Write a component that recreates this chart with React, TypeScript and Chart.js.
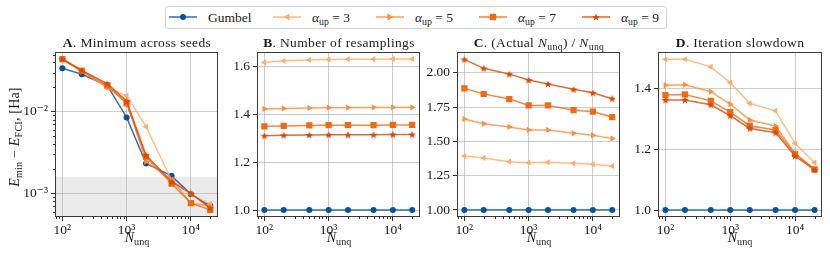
import React, { useEffect, useRef } from 'react';
import { Chart, registerables } from 'chart.js';
Chart.register(...registerables);

// ---------------- data ----------------
const N_UNQ = [100, 200, 500, 1000, 2000, 5000, 10000, 20000];
const ALPHA_UP = [3, 5, 7, 9];
const SERIES_COLORS = ['#08519c', '#fdae6b', '#fd8d3c', '#f16913', '#d94801'];

// A. Minimum across seeds  (E_min - E_FCI, Ha)
const A_GUMBEL = [0.034, 0.0287, 0.0208, 0.0085, 0.00233, 0.00164, 0.00098, 0.000705];
const A_UP3 = [0.0438, 0.0324, 0.0195, 0.0157, 0.00656, 0.00146, 0.00098, 0.00074];
const A_UP5 = [0.044, 0.031, 0.02, 0.0133, 0.00245, 0.00148, 0.00076, 0.0007];
const A_UP7 = [0.044, 0.0315, 0.021, 0.0126, 0.00281, 0.00132, 0.00076, 0.00063];
const A_UP9 = [0.044, 0.032, 0.022, 0.0135, 0.00295, 0.00139, 0.001, 0.00066];
const CHEMICAL_ACCURACY = 0.0016;

// B. Number of resamplings
const B_GUMBEL = [1, 1, 1, 1, 1, 1, 1, 1];
const B_UP3 = [1.617, 1.624, 1.628, 1.63, 1.631, 1.631, 1.632, 1.632];
const B_UP5 = [1.423, 1.425, 1.427, 1.428, 1.428, 1.429, 1.429, 1.429];
const B_UP7 = [1.35, 1.352, 1.354, 1.355, 1.355, 1.355, 1.356, 1.356];
const B_UP9 = [1.311, 1.313, 1.314, 1.315, 1.315, 1.315, 1.316, 1.316];

// C. (Actual N_unq) / N_unq
const C_GUMBEL = [1, 1, 1, 1, 1, 1, 1, 1];
const C_UP3 = [1.393, 1.379, 1.352, 1.345, 1.347, 1.34, 1.333, 1.32];
const C_UP5 = [1.663, 1.629, 1.605, 1.583, 1.583, 1.559, 1.544, 1.52];
const C_UP7 = [1.886, 1.845, 1.808, 1.762, 1.762, 1.728, 1.716, 1.677];
const C_UP9 = [2.097, 2.032, 1.99, 1.947, 1.918, 1.879, 1.854, 1.811];

// D. Iteration slowdown
const D_GUMBEL = [1, 1, 1, 1, 1, 1, 1, 1];
const D_UP3 = [1.497, 1.497, 1.472, 1.42, 1.352, 1.327, 1.22, 1.156];
const D_UP5 = [1.411, 1.413, 1.39, 1.349, 1.297, 1.277, 1.187, 1.134];
const D_UP7 = [1.379, 1.381, 1.36, 1.323, 1.278, 1.264, 1.184, 1.134];
const D_UP9 = [1.363, 1.363, 1.347, 1.311, 1.269, 1.255, 1.178, 1.132];

// tick values
const X_TICKS = [100, 1000, 10000];
const X_TICK_LABELS = ['10²', '10³', '10⁴'];
const A_Y_TICKS = [0.001, 0.01];
const A_Y_TICK_LABELS = ['10⁻³', '10⁻²'];
const B_Y_TICKS = [1.0, 1.2, 1.4, 1.6];
const C_Y_TICKS = [1.0, 1.25, 1.5, 1.75, 2.0];
const D_Y_TICKS = [1.0, 1.2, 1.4];

// ---------------- styling helpers ----------------
const FONT = '"Liberation Serif", "DejaVu Serif", serif';
const TEXT = '#1a1a1a';

function hexA(hex: string, a: number) {
  const n = parseInt(hex.slice(1), 16);
  return `rgba(${(n >> 16) & 255},${(n >> 8) & 255},${n & 255},${a})`;
}

function makeStar(color: string, size: number) {
  const c = document.createElement('canvas');
  c.width = size;
  c.height = size;
  const ctx = c.getContext('2d')!;
  const cx = size / 2, cy = size / 2 + 0.4, R = size / 2, r = R * 0.42;
  ctx.beginPath();
  for (let i = 0; i < 10; i++) {
    const ang = -Math.PI / 2 + (i * Math.PI) / 5;
    const rad = i % 2 === 0 ? R : r;
    ctx.lineTo(cx + rad * Math.cos(ang), cy + rad * Math.sin(ang));
  }
  ctx.closePath();
  ctx.fillStyle = color;
  ctx.fill();
  return c;
}

function markerProps(i: number) {
  const color = SERIES_COLORS[i];
  switch (i) {
    case 0: return { pointStyle: 'circle', pointRadius: 3, pointRotation: 0 };
    case 1: return { pointStyle: 'triangle', pointRadius: 3.6, pointRotation: -90 };
    case 2: return { pointStyle: 'triangle', pointRadius: 3.6, pointRotation: 90 };
    case 3: return { pointStyle: 'rect', pointRadius: 4.4, pointRotation: 0 };
    default: return { pointStyle: makeStar(color, 8), pointRadius: 4, pointRotation: 0 };
  }
}

function dataset(label: string, values: number[], i: number) {
  const color = SERIES_COLORS[i];
  return {
    label,
    data: N_UNQ.map((x, j) => ({ x, y: values[j] })),
    borderColor: hexA(color, 0.8),
    backgroundColor: color,
    pointBackgroundColor: color,
    pointBorderColor: color,
    pointBorderWidth: 0,
    borderWidth: 1.5,
    tension: 0,
    order: 5 - i,
    ...markerProps(i),
  };
}

const GRID = 'rgba(170,170,170,0.6)';

function minorLogValues(min: number, max: number) {
  const out: number[] = [];
  for (let e = Math.floor(Math.log10(min)); e <= Math.ceil(Math.log10(max)); e++) {
    for (let k = 2; k <= 9; k++) {
      const v = k * Math.pow(10, e);
      if (v >= min && v <= max) out.push(v);
    }
  }
  return out;
}

const framePlugin = {
  id: 'frameAndMinor',
  beforeDraw(chart: any, _a: any, opts: any) {
    const { ctx, chartArea } = chart;
    if (opts.shadeBelow != null) {
      const y = chart.scales.y.getPixelForValue(opts.shadeBelow);
      ctx.save();
      ctx.fillStyle = '#ebebeb';
      ctx.fillRect(chartArea.left, y, chartArea.right - chartArea.left, chartArea.bottom - y);
      ctx.restore();
    }
  },
  afterDraw(chart: any) {
    const { ctx, chartArea } = chart;
    ctx.save();
    ctx.strokeStyle = '#333';
    ctx.lineWidth = 1;
    // minor ticks on log axes
    ['x', 'y'].forEach((id) => {
      const s = chart.scales[id];
      if (s.type !== 'logarithmic') return;
      minorLogValues(s.min, s.max).forEach((v) => {
        const p = Math.round(s.getPixelForValue(v)) + 0.5;
        ctx.beginPath();
        if (id === 'x') {
          ctx.moveTo(p, chartArea.bottom);
          ctx.lineTo(p, chartArea.bottom + 2);
        } else {
          ctx.moveTo(chartArea.left, p);
          ctx.lineTo(chartArea.left - 2, p);
        }
        ctx.stroke();
      });
    });
    ctx.strokeStyle = '#3a3a3a';
    ctx.strokeRect(
      Math.round(chartArea.left) + 0.5,
      Math.round(chartArea.top) + 0.5,
      Math.round(chartArea.right - chartArea.left) - 1,
      Math.round(chartArea.bottom - chartArea.top) - 1
    );
    ctx.restore();
  },
};

type PanelCfg = {
  left: number;
  width: number;
  yWidth: number;
  padRight: number;
  yType: 'linear' | 'logarithmic';
  yMin: number;
  yMax: number;
  yTicks: number[];
  yLabel: (v: number, i: number) => string;
  series: number[][];
  shadeBelow?: number;
};

const SERIES_LABELS = ['Gumbel', ...ALPHA_UP.map((a) => `α_up = ${a}`)];

const X_MIN = Math.pow(10, 1.885);
const X_MAX = Math.pow(10, 4.416);

const PANELS: PanelCfg[] = [
  {
    left: 0, width: 222, yWidth: 55, padRight: 3, yType: 'logarithmic',
    yMin: 5.15e-4, yMax: 0.0537, yTicks: A_Y_TICKS, yLabel: (_v, i) => A_Y_TICK_LABELS[i],
    series: [A_GUMBEL, A_UP3, A_UP5, A_UP7, A_UP9], shadeBelow: CHEMICAL_ACCURACY,
  },
  {
    left: 222, width: 202, yWidth: 35, padRight: 3, yType: 'linear',
    yMin: 0.971, yMax: 1.661, yTicks: B_Y_TICKS, yLabel: (v) => v.toFixed(1),
    series: [B_GUMBEL, B_UP3, B_UP5, B_UP7, B_UP9],
  },
  {
    left: 424, width: 200, yWidth: 33, padRight: 3, yType: 'linear',
    yMin: 0.949, yMax: 2.151, yTicks: C_Y_TICKS, yLabel: (v) => v.toFixed(2),
    series: [C_GUMBEL, C_UP3, C_UP5, C_UP7, C_UP9],
  },
  {
    left: 624, width: 206, yWidth: 34, padRight: 8, yType: 'linear',
    yMin: 0.977, yMax: 1.521, yTicks: D_Y_TICKS, yLabel: (v) => v.toFixed(1),
    series: [D_GUMBEL, D_UP3, D_UP5, D_UP7, D_UP9],
  },
];

const TICK_FONT = { family: FONT, size: 13.5 };

function Panel({ cfg }: { cfg: PanelCfg }) {
  const ref = useRef<HTMLCanvasElement>(null);
  useEffect(() => {
    const chart = new Chart(ref.current!, {
      type: 'line',
      data: { datasets: cfg.series.map((s, i) => dataset(SERIES_LABELS[i], s, i)) as any },
      options: {
        animation: false,
        responsive: false,
        devicePixelRatio: 1,
        layout: { padding: { top: 22, right: cfg.padRight, left: 0, bottom: 0 } },
        plugins: {
          legend: { display: false },
          tooltip: { enabled: false },
          title: { display: false },
          frameAndMinor: { shadeBelow: cfg.shadeBelow },
        } as any,
        scales: {
          x: {
            type: 'logarithmic',
            min: X_MIN,
            max: X_MAX,
            afterBuildTicks: (s: any) => { s.ticks = X_TICKS.map((v) => ({ value: v, major: true })); },
            afterFit: (s: any) => { s.height = 43; },
            ticks: {
              autoSkip: false,
              maxRotation: 0,
              padding: 1,
              color: TEXT,
              font: TICK_FONT,
              callback: (_v: any, i: number) => X_TICK_LABELS[i],
            },
            grid: { color: GRID, lineWidth: 1, tickColor: '#333', tickLength: 4 },
            border: { display: false },
          },
          y: {
            type: cfg.yType,
            min: cfg.yMin,
            max: cfg.yMax,
            afterBuildTicks: (s: any) => { s.ticks = cfg.yTicks.map((v) => ({ value: v, major: true })); },
            afterFit: (s: any) => { s.width = cfg.yWidth; },
            ticks: {
              autoSkip: false,
              padding: 3,
              color: TEXT,
              font: TICK_FONT,
              callback: (v: any, i: number) => cfg.yLabel(Number(v), i),
            },
            grid: { color: GRID, lineWidth: 1, tickColor: '#333', tickLength: 4 },
            border: { display: false },
          } as any,
        },
      },
      plugins: [framePlugin],
    });
    return () => chart.destroy();
  }, []);
  return (
    <canvas
      ref={ref}
      width={cfg.width}
      height={230}
      style={{ position: 'absolute', left: cfg.left, top: 30, width: cfg.width, height: 230 }}
    />
  );
}

const subStyle: React.CSSProperties = {
  fontSize: '0.72em',
  verticalAlign: 'baseline',
  position: 'relative',
  top: '0.3em',
  lineHeight: 1,
};

const Sub = ({ children }: { children: React.ReactNode }) => <span style={subStyle}>{children}</span>;
const Nunq = () => (
  <span>
    <i>N</i>
    <Sub>unq</Sub>
  </span>
);

const TITLES: React.ReactNode[] = [
  <span><b>A</b>. Minimum across seeds</span>,
  <span><b>B</b>. Number of resamplings</span>,
  <span><b>C</b>. (Actual <Nunq />) / <Nunq /></span>,
  <span><b>D</b>. Iteration slowdown</span>,
];

const CHART_AREAS = PANELS.map((p) => ({ left: p.left + p.yWidth, right: p.left + p.width - p.padRight }));

function LegendMarker({ i }: { i: number }) {
  const c = SERIES_COLORS[i];
  let shape: React.ReactNode;
  if (i === 0) shape = <circle cx={14} cy={5} r={3} fill={c} />;
  else if (i === 1) shape = <polygon points="10.5,5 16.5,1.6 16.5,8.4" fill={c} />;
  else if (i === 2) shape = <polygon points="17.5,5 11.5,1.6 11.5,8.4" fill={c} />;
  else if (i === 3) shape = <rect x={10.8} y={1.8} width={6.4} height={6.4} fill={c} />;
  else {
    const pts: string[] = [];
    for (let k = 0; k < 10; k++) {
      const ang = -Math.PI / 2 + (k * Math.PI) / 5;
      const rad = k % 2 === 0 ? 4 : 1.7;
      pts.push(`${(14 + rad * Math.cos(ang)).toFixed(2)},${(5.4 + rad * Math.sin(ang)).toFixed(2)}`);
    }
    shape = <polygon points={pts.join(' ')} fill={c} />;
  }
  return (
    <svg width={28} height={10} style={{ position: 'absolute', left: 0, top: 5 }}>
      <line x1={0} y1={5} x2={28} y2={5} stroke={hexA(c, 0.85)} strokeWidth={1.5} />
      {shape}
    </svg>
  );
}

const LEGEND_ITEM_X = [3, 107, 210, 313, 416];

export default function App() {
  useEffect(() => {
    document.body.style.margin = '0';
  }, []);
  return (
    <div
      style={{
        position: 'fixed', left: 0, top: 0, width: 830, height: 260, background: '#fff',
        fontFamily: FONT, color: TEXT, overflow: 'hidden',
      }}
    >
      {PANELS.map((p, i) => <Panel key={i} cfg={p} />)}

      {/* titles */}
      {TITLES.map((t, i) => (
        <div
          key={'t' + i}
          style={{
            position: 'absolute', left: CHART_AREAS[i].left - 20, width: CHART_AREAS[i].right - CHART_AREAS[i].left + 40,
            top: 36, textAlign: 'center', fontSize: 13.5, lineHeight: '14px', whiteSpace: 'nowrap',
            letterSpacing: '0.35px',
          }}
        >
          {t}
        </div>
      ))}

      {/* x-axis labels */}
      {CHART_AREAS.map((a, i) => (
        <div
          key={'x' + i}
          style={{
            position: 'absolute', left: a.left, width: a.right - a.left, top: 231,
            textAlign: 'center', fontSize: 14, lineHeight: '14px', whiteSpace: 'nowrap',
          }}
        >
          <Nunq />
        </div>
      ))}

      {/* y-axis label of panel A */}
      <div
        style={{
          position: 'absolute', left: 15 - 100, top: 137 - 7, width: 200, height: 14,
          textAlign: 'center', fontSize: 14, lineHeight: '14px', whiteSpace: 'nowrap',
          transform: 'rotate(-90deg)', transformOrigin: '50% 50%', letterSpacing: '0.2px',
        }}
      >
        <i>E</i><Sub>min</Sub> − <i>E</i><Sub>FCI</Sub>, [Ha]
      </div>

      {/* legend */}
      <div
        style={{
          position: 'absolute', left: 165, top: 6, width: 500, height: 21,
          border: '1px solid #d4d4d4', borderRadius: 3, background: '#fff',
        }}
      >
        {SERIES_LABELS.map((_l, i) => (
          <div key={'l' + i} style={{ position: 'absolute', left: LEGEND_ITEM_X[i], top: 0, height: 21 }}>
            <LegendMarker i={i} />
            <div
              style={{
                position: 'absolute', left: 39, top: 4, fontSize: 13.5, lineHeight: '13px', whiteSpace: 'nowrap',
              }}
            >
              {i === 0 ? 'Gumbel' : (
                <span><i>α</i><Sub>up</Sub> = {ALPHA_UP[i - 1]}</span>
              )}
            </div>
          </div>
        ))}
      </div>
    </div>
  );
}
